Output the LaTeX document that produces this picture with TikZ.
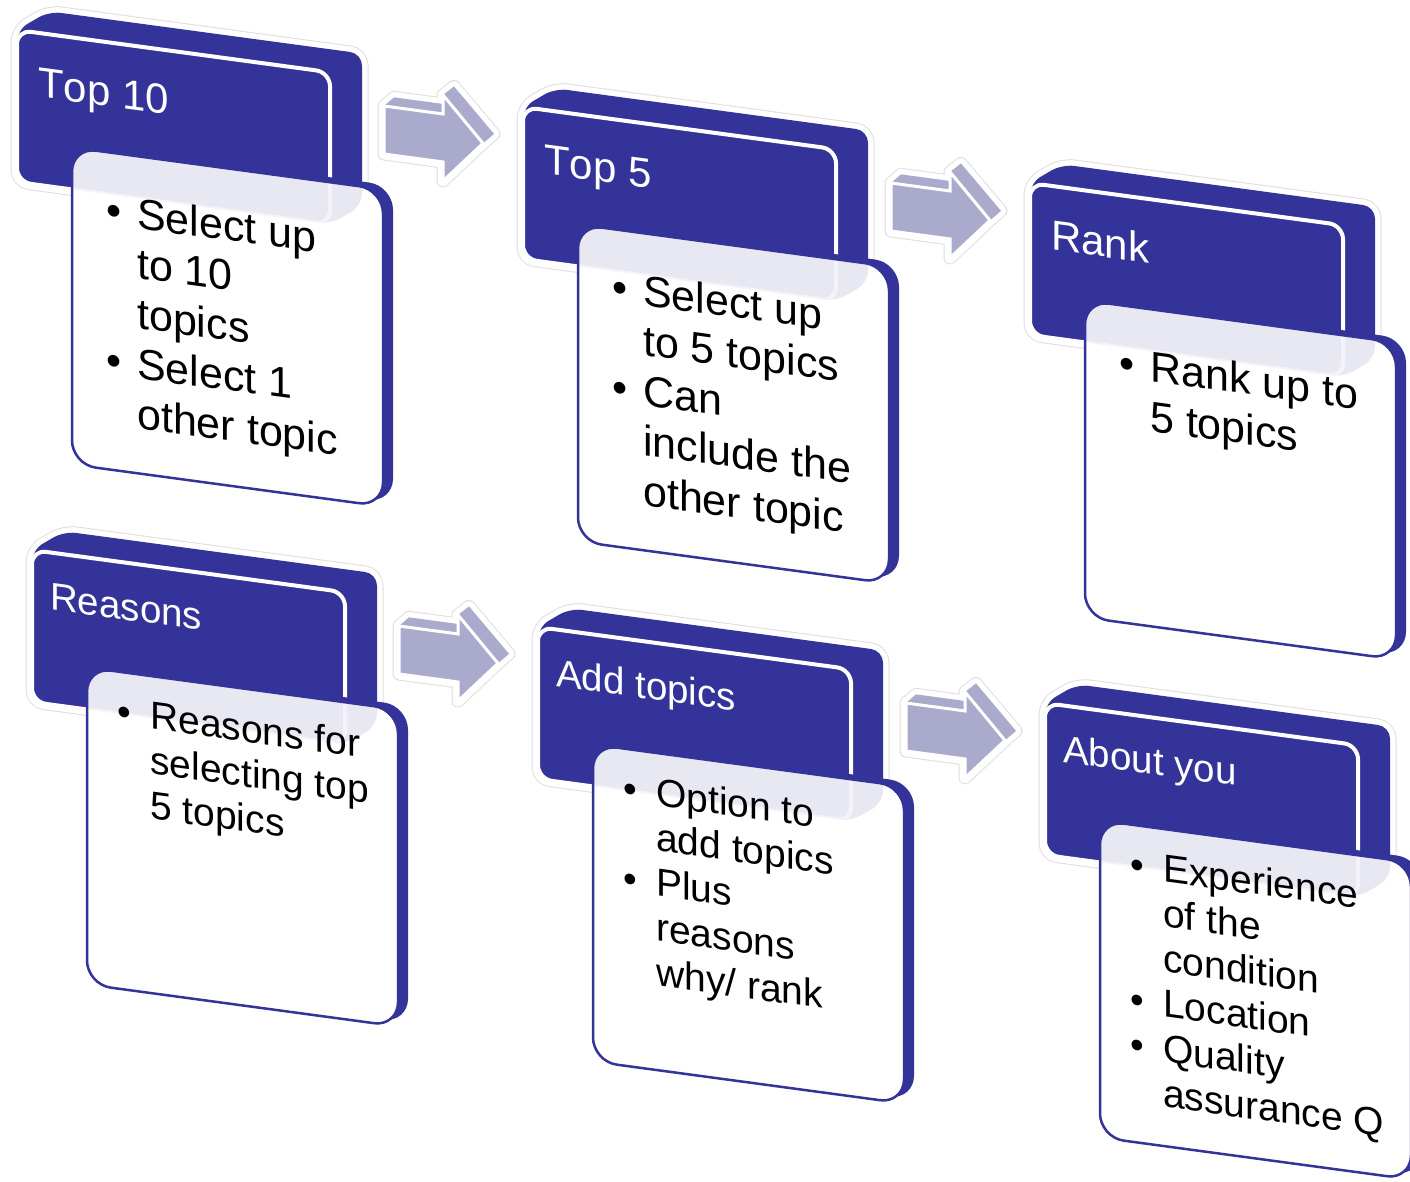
\documentclass[tikz,border=0pt]{standalone}
\usepackage{fontspec}
\setmainfont{Liberation Sans}
\definecolor{hdr}{RGB}{51,51,153}
\definecolor{arw}{RGB}{170,170,204}
\definecolor{glowedge}{RGB}{222,222,226}

% outline of the extruded header slab (front face plus top and right faces)
\newcommand\hullpath{(0,152) -- (0,0) -- (32,-23) -- (345,-23) -- (345,129) -- (313,152) -- cycle}
% silhouette and front face of the extruded block arrow
\newcommand\arrowhull{(0,48) -- (0,0) -- (10,-10) -- (59,-10) -- (59,-19) -- (70,-29) -- (110,13) -- (99,24) -- (59,67) -- (59,48) -- cycle}
\newcommand\arrowfront{(0,0) -- (59,0) -- (59,-19) -- (99,24) -- (59,67) -- (59,48) -- (0,48) -- cycle}

\newcommand\blist[2]{\begin{tabular}[t]{@{}p{#1}@{}l@{}}#2\end{tabular}}

% #1 origin, #2 name, #3 title style, #4 title position, #5 title,
% #6 body style, #7 body position, #8 body text
\newcommand\procblock[8]{%
\begin{scope}[shift={#1}, yslant=-0.135]
  \draw[glowedge, line width=13, rounded corners=12] \hullpath;
  \draw[white, line width=11, rounded corners=12] \hullpath;
  \fill[hdr, rounded corners=12] \hullpath;
  \draw[white, line width=4, fill=hdr, rounded corners=14] (0,0) rectangle (313,152);
  \node[#3, anchor=base west] (#2-title) at #4 {#5};
  \fill[hdr, rounded corners=24] (65,105) rectangle (376,422);
  \fill[white, rounded corners=24] (55,110) rectangle (366,427);
  \begin{scope}
    \clip[rounded corners=24] (55,110) rectangle (366,427);
    \fill[hdr, opacity=.11, rounded corners=12] \hullpath;
    \draw[white, opacity=.5, line width=4, rounded corners=14] (0,0) rectangle (313,152);
  \end{scope}
  \draw[hdr, line width=2.5, rounded corners=24] (55,110) rectangle (366,427);
  \node[#6, anchor=base west] (#2-body) at #7 {#8};
\end{scope}}

\newcommand\procarrow[2]{%
\begin{scope}[shift={#1}, yslant=-0.135]
  \draw[glowedge, line width=13, line join=round] \arrowhull;
  \draw[white, line width=11, line join=round] \arrowhull;
  \fill[arw] \arrowhull;
  \draw[white, line width=3, fill=arw] \arrowfront;
  \coordinate (#2) at (50,24);
\end{scope}}

\tikzset{
  titleA/.style={font=\fontsize{42}{48}\selectfont\addfontfeatures{Kerning=Off}, text=white, inner sep=0, transform shape},
  titleB/.style={font=\fontsize{38.5}{45}\selectfont\addfontfeatures{Kerning=Off}, text=white, inner sep=0, transform shape},
  bodyA/.style={font=\fontsize{43}{50}\selectfont, text=black, inner sep=0, transform shape},
  bodyB/.style={font=\fontsize{39}{45}\selectfont, text=black, inner sep=0, transform shape},
}

\begin{document}
\begin{tikzpicture}[x=1pt, y=-1pt]
\useasboundingbox (0,0) rectangle (1410,1181);
\clip (0,0) rectangle (1410,1181);

\procarrow{(384,106)}{a1}
\procarrow{(891,183)}{a2}
\procarrow{(399,626)}{a3}
\procarrow{(906,703)}{a4}

\procblock{(17,30)}{top10}{titleA}{(21,64)}{Top 10}{bodyA}{(89,182)}
  {\blist{31pt}{\textbullet & Select up\\ & to 10\\ & topics\\ \textbullet & Select 1\\ & other topic}}
\procblock{(523,107)}{top5}{titleA}{(21,64)}{Top 5}{bodyA}{(89,182)}
  {\blist{31pt}{\textbullet & Select up\\ & to 5 topics\\ \textbullet & Can\\ & include the\\ & other topic}}
\procblock{(1030,183)}{rank}{titleA}{(21,64)}{Rank}{bodyA}{(89,182)}
  {\blist{31pt}{\textbullet & Rank up to\\ & 5 topics}}
\procblock{(32,550)}{reasons}{titleB}{(18,57)}{Reasons}{bodyB}{(85,163)}
  {\blist{33pt}{\textbullet & Reasons for\\ & selecting top\\ & 5 topics}}
\procblock{(538,627)}{addtopics}{titleB}{(18,57)}{Add topics}{bodyB}{(85,163)}
  {\blist{33pt}{\textbullet & Option to\\ & add topics\\ \textbullet & Plus\\ & reasons\\ & why/ rank}}
\procblock{(1045,703)}{aboutyou}{titleB}{(18,57)}{About you}{bodyB}{(85,163)}
  {\blist{33pt}{\textbullet & Experience\\ & of the\\ & condition\\ \textbullet & Location\\ \textbullet & Quality\\ & assurance Q}}
\end{tikzpicture}
\end{document}
